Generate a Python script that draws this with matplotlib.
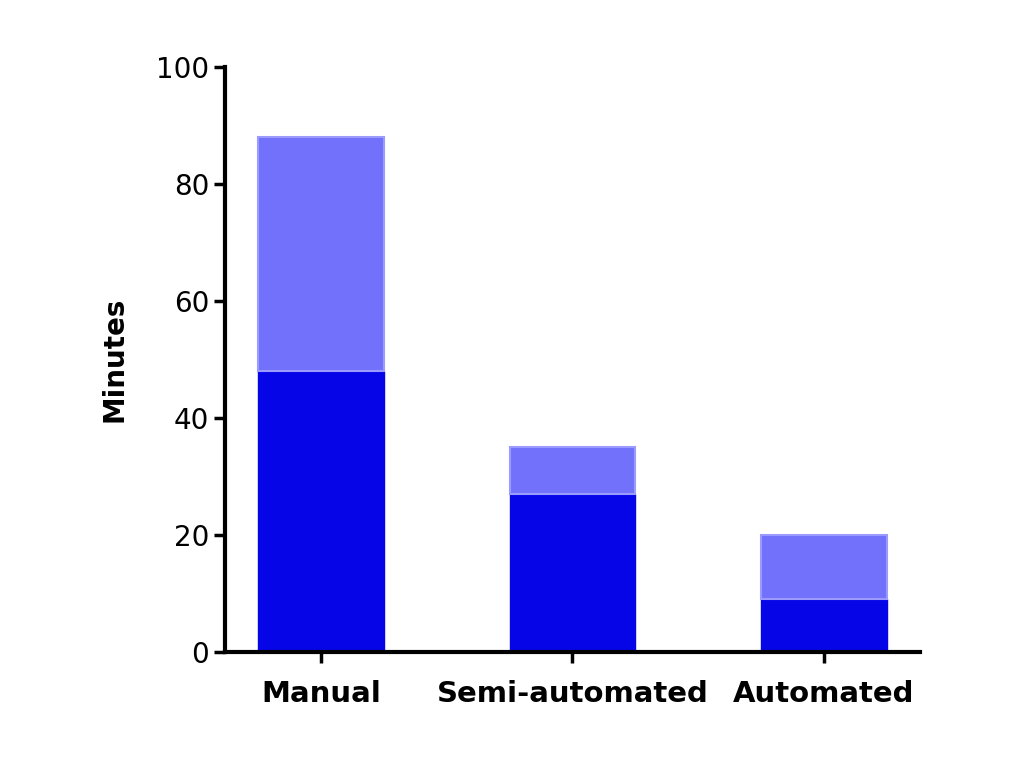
import matplotlib
matplotlib.use("Agg")
import matplotlib.pyplot as plt

categories = ["Manual", "Semi-automated", "Automated"]
base_minutes = [48, 27, 9]
extra_minutes = [40, 8, 11]

fig = plt.figure(figsize=(10.24, 7.65), dpi=100)
ax = fig.add_axes([0.22, 0.148, 0.678, 0.764])

x = range(len(categories))
ax.bar(x, base_minutes, width=0.5, color="#0505E8", edgecolor="#0505E8")
ax.bar(x, extra_minutes, width=0.5, bottom=base_minutes,
       color="#7171FB", edgecolor="#9A9AFF", linewidth=1.5)

ax.set_xlim(-0.38, 2.38)
ax.set_ylim(0, 100)
ax.set_yticks([0, 20, 40, 60, 80, 100])
ax.set_xticks(list(x))
ax.set_xticklabels(categories, fontsize=21, fontweight="bold")
ax.tick_params(axis="y", labelsize=20, width=2.5, length=8)
ax.tick_params(axis="x", width=2.5, length=8, pad=12)
ax.set_ylabel("Minutes", fontsize=20, fontweight="bold", labelpad=20)
for s in ["top", "right"]:
    ax.spines[s].set_visible(False)
for s in ["left", "bottom"]:
    ax.spines[s].set_linewidth(3)

fig.savefig("out.png", dpi=100)
